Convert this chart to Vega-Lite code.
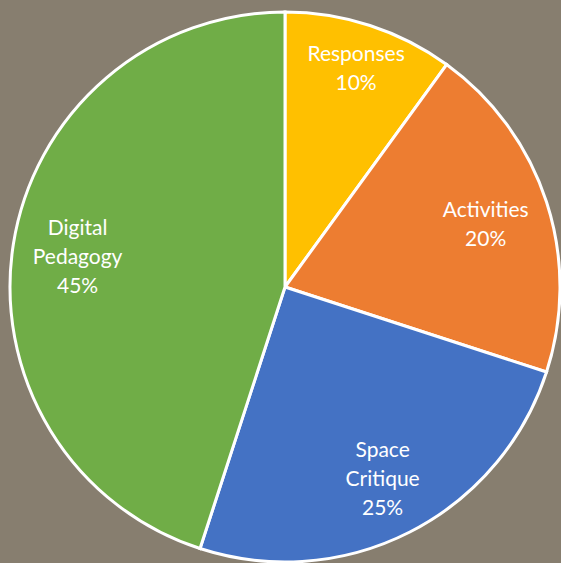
{
  "$schema": "https://vega.github.io/schema/vega-lite/v6.json",
  "width": 552,
  "height": 550,
  "autosize": {"type": "none"},
  "padding": {"left": 9, "top": 12, "right": 0, "bottom": 1},
  "background": "#877E6F",
  "config": {"view": {"stroke": null}},
  "data": {
    "values": [
      {"category": "Responses", "value": 10, "order": 1, "label": "Responses\n10%"},
      {"category": "Activities", "value": 20, "order": 2, "label": "Activities\n20%"},
      {"category": "Space Critique", "value": 25, "order": 3, "label": "Space\nCritique\n25%"},
      {"category": "Digital Pedagogy", "value": 45, "order": 4, "label": "Digital\nPedagogy\n45%"}
    ]
  },
  "encoding": {
    "theta": {"field": "value", "type": "quantitative", "stack": true},
    "order": {"field": "order", "type": "quantitative"},
    "color": {
      "field": "category",
      "type": "nominal",
      "scale": {
        "domain": ["Responses", "Activities", "Space Critique", "Digital Pedagogy"],
        "range": ["#FFC000", "#ED7D31", "#4472C4", "#70AD47"]
      },
      "legend": null
    }
  },
  "layer": [
    {
      "mark": {"type": "arc", "outerRadius": 275, "stroke": "white", "strokeWidth": 3}
    },
    {
      "mark": {"type": "text", "radius": 230, "dy": -13.5, "font": "Lato", "fontSize": 21, "lineBreak": "\n", "lineHeight": 29, "align": "center", "baseline": "middle"},
      "encoding": {"text": {"condition": {"test": "datum.category === 'Responses'", "field": "label"}, "value": ""}, "color": {"value": "white"}}
    },
    {
      "mark": {"type": "text", "radius": 211, "dy": -11, "font": "Lato", "fontSize": 21, "lineBreak": "\n", "lineHeight": 29, "align": "center", "baseline": "middle"},
      "encoding": {"text": {"condition": {"test": "datum.category === 'Activities'", "field": "label"}, "value": ""}, "color": {"value": "white"}}
    },
    {
      "mark": {"type": "text", "radius": 215, "dy": -28, "font": "Lato", "fontSize": 21, "lineBreak": "\n", "lineHeight": 29, "align": "center", "baseline": "middle"},
      "encoding": {"text": {"condition": {"test": "datum.category === 'Space Critique'", "field": "label"}, "value": ""}, "color": {"value": "white"}}
    },
    {
      "mark": {"type": "text", "radius": 210, "dy": -25.5, "font": "Lato", "fontSize": 21, "lineBreak": "\n", "lineHeight": 29, "align": "center", "baseline": "middle"},
      "encoding": {"text": {"condition": {"test": "datum.category === 'Digital Pedagogy'", "field": "label"}, "value": ""}, "color": {"value": "white"}}
    }
  ]
}
